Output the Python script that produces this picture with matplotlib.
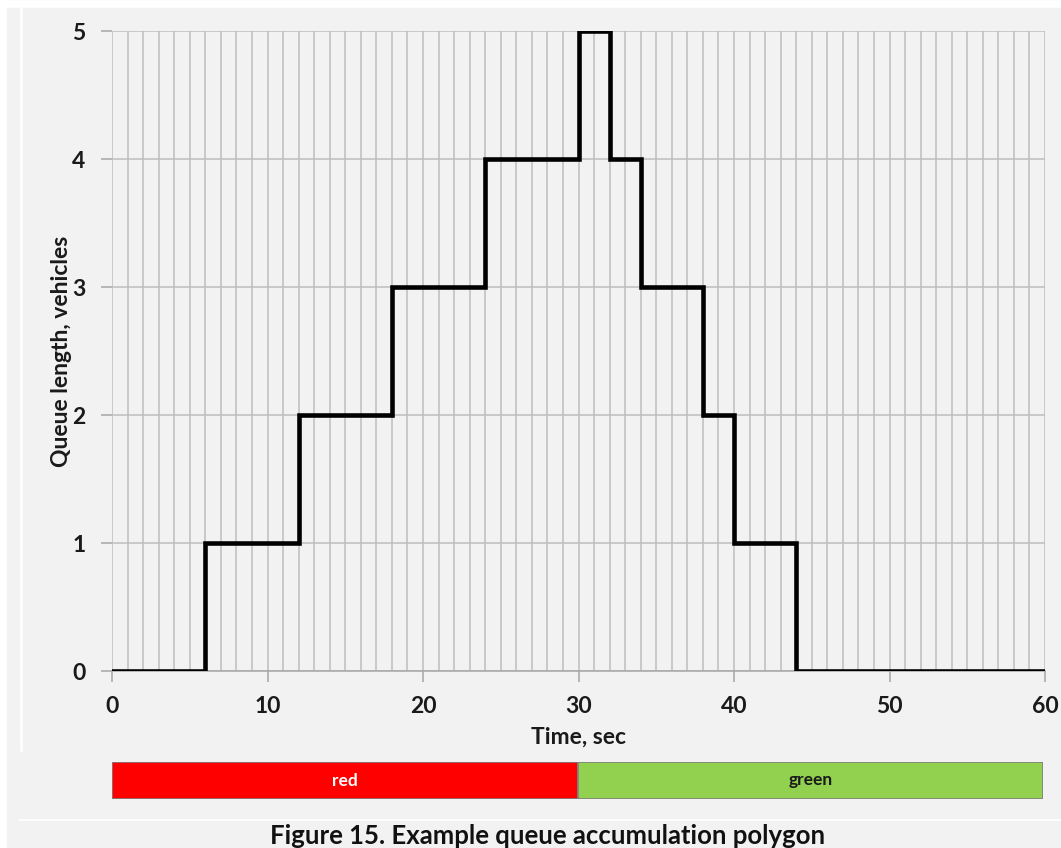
import matplotlib
matplotlib.use("Agg")
import matplotlib.pyplot as plt
from matplotlib.lines import Line2D

# Data
step_times = [0, 6, 12, 18, 24, 30, 32, 34, 38, 40, 44, 60]
queue_len = [0, 1, 2, 3, 4, 5, 4, 3, 2, 1, 0, 0]
x_ticks = [0, 10, 20, 30, 40, 50, 60]
y_ticks = [0, 1, 2, 3, 4, 5]
phases = ["red", "green"]
phase_start = [0, 30]
phase_dur = [30, 30]
phase_colors = ["#ff0000", "#92d050"]
phase_text_colors = ["white", "#1a1a1a"]

plt.rcParams['font.family'] = ['Lato', 'DejaVu Sans']
BG = "#f2f2f2"
W, H = 1061, 848
fig = plt.figure(figsize=(W / 100, H / 100), dpi=100, facecolor=BG)

# white framing strips
fig.add_artist(Line2D([0, 1], [1 - 3.5 / H, 1 - 3.5 / H], color="white", lw=5.5, transform=fig.transFigure))
fig.add_artist(Line2D([21 / W, 21 / W], [1 - 7 / H, 1 - 750 / H], color="white", lw=1.8, transform=fig.transFigure))
fig.add_artist(Line2D([20 / W, 1], [1 - 820 / H, 1 - 820 / H], color="white", lw=1.2, transform=fig.transFigure))
fig.add_artist(Line2D([3 / W, 3 / W], [0, 1], color="white", lw=5, transform=fig.transFigure))

left, right = 112 / W, 1045 / W
bottom, top = 1 - 671 / H, 1 - 31 / H
ax = fig.add_axes([left, bottom, right - left, top - bottom])
ax.set_facecolor(BG)
ax.set_xlim(0, 60)
ax.set_ylim(0, 5)

grid_c = "#bdbdbd"
for t in range(0, 61):
    ax.axvline(t, color=grid_c, lw=1.1, zorder=1)
for v in y_ticks:
    ax.axhline(v, color=grid_c, lw=1.1, zorder=1)

ax.step(step_times, queue_len, where="post", color="black", lw=3.3, zorder=3,
        solid_joinstyle="miter")

for s in ["top", "right", "left"]:
    ax.spines[s].set_visible(False)
ax.spines["bottom"].set_color("#a6a6a6")
ax.spines["bottom"].set_linewidth(1.1)

ax.set_xticks(x_ticks)
ax.set_yticks(y_ticks)
ax.tick_params(axis="x", which="major", length=8, width=1.1, color="#a6a6a6", pad=10,
               labelsize=16.5)
ax.tick_params(axis="y", which="major", length=8, width=1.1, color="#a6a6a6", pad=11,
               labelsize=16.5)
for lbl in ax.get_xticklabels() + ax.get_yticklabels():
    lbl.set_fontweight("bold")
    lbl.set_color("#1a1a1a")

ax.set_xlabel("Time, sec", fontsize=16.5, fontweight="bold", color="#1a1a1a", labelpad=7)
ax.set_ylabel("Queue length, vehicles", fontsize=16.5, fontweight="bold", color="#1a1a1a",
              labelpad=0)

# signal phase bar
bx = fig.add_axes([left, 1 - 799 / H, (1043 - 112) / W, 37 / H])
bx.set_xlim(0, 60)
bx.set_ylim(0, 1)
bx.axis("off")
for name, st, d, c, tc in zip(phases, phase_start, phase_dur, phase_colors, phase_text_colors):
    bx.barh(0.5, d, left=st, height=1.0, color=c, edgecolor="#7f7f7f", lw=1.2)
    bx.text(st + d / 2, 0.5, name, ha="center", va="center", color=tc,
            fontsize=12.5, fontweight="bold")

fig.text(548 / W, 1 - 836 / H, "Figure 15. Example queue accumulation polygon",
         ha="center", va="center", fontsize=18.5, fontweight="bold", color="#111111")

fig.savefig("out.png", dpi=100, facecolor=BG)
